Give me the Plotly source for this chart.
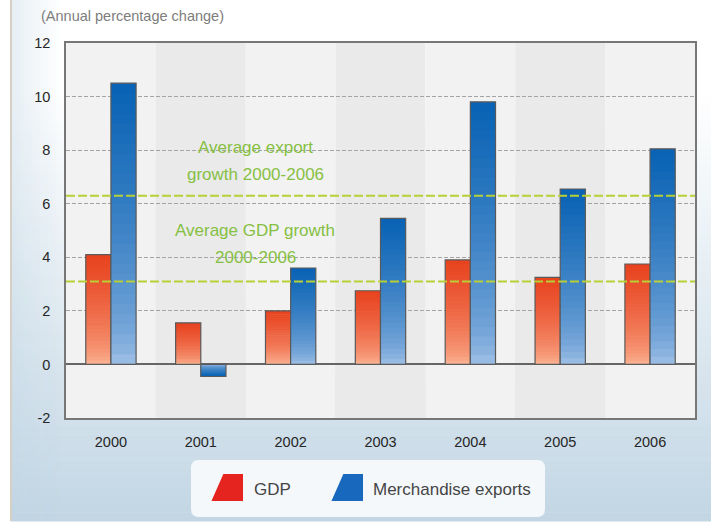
import plotly.graph_objects as go

# ---- data -------------------------------------------------------------
years = ["2000", "2001", "2002", "2003", "2004", "2005", "2006"]
gdp_growth = [4.1, 1.55, 2.0, 2.75, 3.9, 3.25, 3.75]
export_growth = [10.5, -0.45, 3.6, 5.45, 9.8, 6.55, 8.05]
avg_export_growth = 6.3
avg_gdp_growth = 3.1
y_ticks = [-2, 0, 2, 4, 6, 8, 10, 12]
y_tick_labels = ["-2", "0", "2", "4", "6", "8", "10", "12"]

# ---- canvas geometry (pixels) -----------------------------------------
W, H = 711, 525
L, R, T, B = 66, 695, 43, 418


def px_x(x):
    return (x - L) / (R - L)


def px_y(y):
    return (B - y) / (B - T)


def lerp(c0, c1, t):
    return "rgb(%d,%d,%d)" % tuple(round(a + (b - a) * t) for a, b in zip(c0, c1))


FONT = "Liberation Sans, Arial, sans-serif"
N = 28          # slices per bar used to build the vertical colour gradient
BAR_W = 0.28

series = [
    ("GDP", gdp_growth, -BAR_W, (252, 190, 158), (232, 66, 30)),
    ("Merchandise exports", export_growth, 0.0, (170, 198, 234), (8, 98, 180)),
]

fig = go.Figure()
for name, vals, off, light, dark in series:
    for i in range(N):
        f = (i + 0.5) / N
        col = lerp(light, dark, f ** 0.55)
        stretch = 1.25 if i < N - 1 else 1.0
        fig.add_trace(go.Bar(
            x=years,
            y=[v / N * stretch for v in vals],
            base=[v * i / N for v in vals],
            width=BAR_W, offset=off,
            marker=dict(color=col, line=dict(width=0)),
            showlegend=False, hoverinfo="skip",
        ))
    # outline of the full bar
    fig.add_trace(go.Bar(
        x=years, y=vals, width=BAR_W, offset=off, name=name,
        marker=dict(color="rgba(0,0,0,0)", line=dict(color="#5a5a5a", width=1.2)),
        showlegend=False,
        hovertemplate="%{x}: %{y}<extra>" + name + "</extra>",
    ))

shapes = []

# page background: white at the top fading to pale blue at the bottom
BG_TOP, BG_BOT = (255, 255, 255), (194, 214, 228)
steps = 60
for k in range(steps):
    y0 = 521 * k / steps
    y1 = 521 * (k + 1) / steps + 0.5
    t = max(0.0, ((y0 + y1) / 2 - 90) / (521 - 90))
    shapes.append(dict(type="rect", xref="paper", yref="paper", layer="below",
                       x0=px_x(11), x1=px_x(W + 2), y0=px_y(y1), y1=px_y(y0),
                       fillcolor=lerp(BG_TOP, BG_BOT, t ** 1.05), line=dict(width=0)))
# soft blue tint along the left edge
for k in range(12):
    a = 0.35 * (1 - k / 12)
    shapes.append(dict(type="rect", xref="paper", yref="paper", layer="below",
                       x0=px_x(12 + 4 * k), x1=px_x(16 + 4 * k), y0=px_y(521), y1=px_y(0),
                       fillcolor="rgba(190,212,228,%.3f)" % a, line=dict(width=0)))
# frame line on the left
shapes.append(dict(type="line", xref="paper", yref="paper", layer="below",
                   x0=px_x(11), x1=px_x(11), y0=px_y(521), y1=px_y(0),
                   line=dict(color="#d6d0c4", width=2)))

# alternating column bands inside the plot area
for i, yr in enumerate(years):
    shapes.append(dict(type="rect", xref="x", yref="paper", layer="below",
                       x0=i - 0.5, x1=i + 0.5, y0=0, y1=1,
                       fillcolor="#f2f2f2" if i % 2 == 0 else "#eaeaea",
                       line=dict(width=0)))

# average growth reference lines
for val in (avg_export_growth, avg_gdp_growth):
    shapes.append(dict(type="line", xref="paper", yref="y", layer="above",
                       x0=0, x1=1, y0=val, y1=val,
                       line=dict(color="#b8d036", width=2, dash="9px,3px")))

# legend panel
lx0, lx1, ly0, ly1, rr = 191, 545, 460, 517, 8
legend_path = (
    f"M {px_x(lx0 + rr)},{px_y(ly0)} L {px_x(lx1 - rr)},{px_y(ly0)} "
    f"Q {px_x(lx1)},{px_y(ly0)} {px_x(lx1)},{px_y(ly0 + rr)} "
    f"L {px_x(lx1)},{px_y(ly1 - rr)} Q {px_x(lx1)},{px_y(ly1)} {px_x(lx1 - rr)},{px_y(ly1)} "
    f"L {px_x(lx0 + rr)},{px_y(ly1)} Q {px_x(lx0)},{px_y(ly1)} {px_x(lx0)},{px_y(ly1 - rr)} "
    f"L {px_x(lx0)},{px_y(ly0 + rr)} Q {px_x(lx0)},{px_y(ly0)} {px_x(lx0 + rr)},{px_y(ly0)} Z"
)
shapes.append(dict(type="path", xref="paper", yref="paper", layer="below",
                   path=legend_path, fillcolor="#f4f8fb", line=dict(width=0)))


def swatch(x0, color):
    # slanted legend key: vertical right side, sloping left side
    pts = [(x0 + 11, 475), (x0 + 29, 475), (x0 + 29, 500), (x0, 500)]
    p = "M " + " L ".join(f"{px_x(a)},{px_y(b)}" for a, b in pts) + " Z"
    return dict(type="path", xref="paper", yref="paper", layer="above",
                path=p, fillcolor=color, line=dict(color=color, width=2))


shapes.append(swatch(213, "#e5231f"))
shapes.append(swatch(333, "#1868be"))

annotations = [
    dict(text="(Annual percentage change)", xref="paper", yref="paper",
         x=px_x(39), y=px_y(16), xanchor="left", yanchor="middle", showarrow=False,
         font=dict(family=FONT, size=14.5, color="#7d7d7d")),
    dict(text="GDP", xref="paper", yref="paper", x=px_x(252), y=px_y(489),
         xanchor="left", yanchor="middle", showarrow=False,
         font=dict(family=FONT, size=17, color="#454545")),
    dict(text="Merchandise exports", xref="paper", yref="paper", x=px_x(371), y=px_y(489),
         xanchor="left", yanchor="middle", showarrow=False,
         font=dict(family=FONT, size=17, color="#454545")),
]
for txt, yy in (("Average export", 147), ("growth 2000-2006", 174),
                ("Average GDP growth", 230), ("2000-2006", 257)):
    annotations.append(dict(text=txt, xref="paper", yref="paper", x=px_x(255), y=px_y(yy),
                            xanchor="center", yanchor="middle", showarrow=False,
                            font=dict(family=FONT, size=17, color="#86c043")))

fig.update_layout(
    width=W, height=H,
    margin=dict(l=L, r=W - R, t=T, b=H - B, pad=0),
    paper_bgcolor="white",
    plot_bgcolor="rgba(0,0,0,0)",
    barmode="overlay",
    showlegend=False,
    shapes=shapes,
    annotations=annotations,
    xaxis=dict(type="category", range=[-0.5, 6.5], showgrid=False,
               showline=True, mirror=True, linecolor="#777777", linewidth=1.5,
               ticks="", ticklabelstandoff=10,
               tickfont=dict(family=FONT, size=14.5, color="#262626"),
               fixedrange=True),
    yaxis=dict(range=[-2, 12], tickvals=y_ticks, ticktext=y_tick_labels, showgrid=True,
               gridcolor="#a4a4a4", gridwidth=1.3, griddash="4px,2px",
               zeroline=True, zerolinecolor="#666666", zerolinewidth=1.5,
               showline=True, mirror=True, linecolor="#777777", linewidth=1.5,
               ticks="", ticklabelstandoff=11,
               tickfont=dict(family=FONT, size=14.5, color="#262626"),
               fixedrange=True),
)

fig.write_html("out.html")
